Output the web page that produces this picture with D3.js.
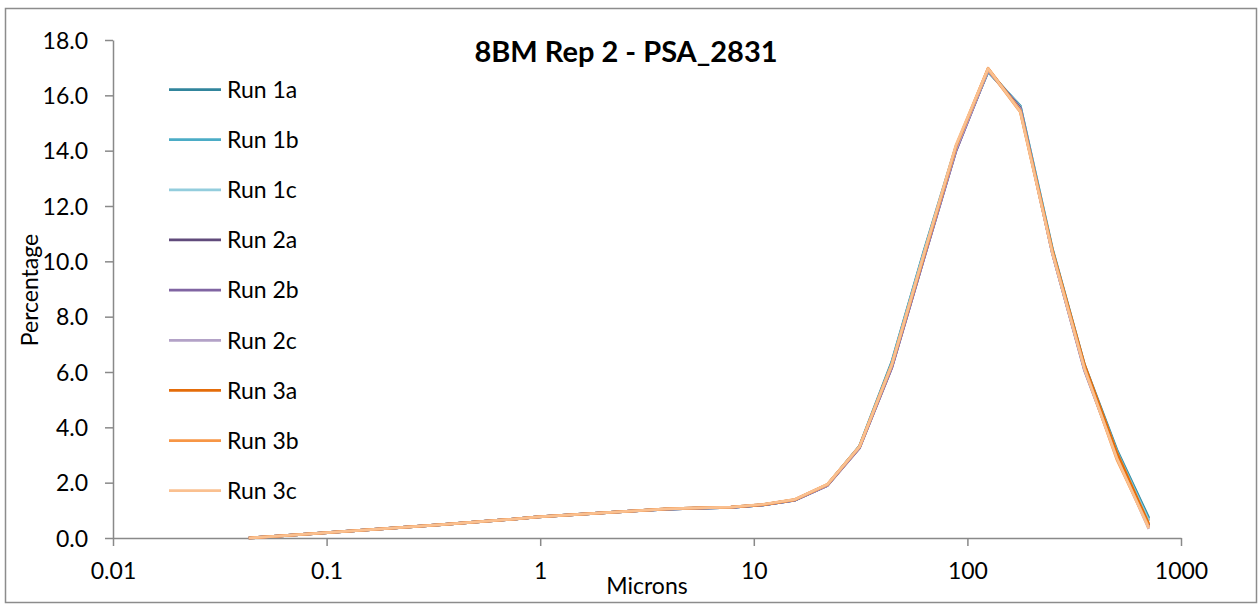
<!DOCTYPE html>
<html>
<head>
<meta charset="utf-8">
<script src="https://cdn.jsdelivr.net/npm/d3@7/dist/d3.min.js"></script>
<style>
  html, body { margin: 0; padding: 0; background: #fff; }
  svg { display: block; font-family: Lato, "Open Sans", sans-serif; }
</style>
</head>
<body>
<svg id="chart" width="1259" height="604"></svg>
<script>
// Particle size classes (microns), sqrt(2) spacing
const microns = [0.0432, 0.0610, 0.0863, 0.122, 0.173, 0.244, 0.345, 0.488, 0.691, 0.977,
                 1.38, 1.95, 2.76, 3.91, 5.52, 7.81, 11.05, 15.6, 22.1, 31.25,
                 44.2, 62.5, 88.4, 125, 176.8, 250, 353.6, 500, 707.1];

// Percentage in each class, per run
const run1a = [0.00, 0.08, 0.16, 0.24, 0.32, 0.40, 0.48, 0.57, 0.66, 0.76, 0.84, 0.91, 0.98, 1.04, 1.08, 1.11, 1.20, 1.38, 1.92, 3.32, 6.35, 10.35, 14.15, 16.85, 15.62, 10.45, 6.25, 3.20, 0.72];
const run1b = [0.00, 0.08, 0.16, 0.24, 0.32, 0.40, 0.48, 0.57, 0.66, 0.76, 0.84, 0.91, 0.98, 1.04, 1.08, 1.11, 1.20, 1.37, 1.91, 3.30, 6.30, 10.30, 14.10, 16.88, 15.60, 10.40, 6.20, 3.15, 0.65];
const run1c = [0.00, 0.08, 0.16, 0.24, 0.32, 0.40, 0.48, 0.57, 0.66, 0.76, 0.84, 0.91, 0.98, 1.05, 1.09, 1.12, 1.21, 1.38, 1.92, 3.30, 6.28, 10.28, 14.08, 16.90, 15.58, 10.38, 6.18, 3.10, 0.60];
const run2a = [0.00, 0.08, 0.16, 0.24, 0.32, 0.40, 0.48, 0.57, 0.66, 0.76, 0.84, 0.91, 0.98, 1.04, 1.08, 1.11, 1.20, 1.37, 1.90, 3.26, 6.15, 10.10, 14.00, 16.90, 15.55, 10.30, 6.10, 3.00, 0.45];
const run2b = [0.00, 0.08, 0.16, 0.24, 0.32, 0.40, 0.48, 0.57, 0.66, 0.76, 0.84, 0.91, 0.98, 1.04, 1.08, 1.11, 1.20, 1.37, 1.90, 3.26, 6.15, 10.10, 14.00, 16.92, 15.50, 10.30, 6.05, 2.95, 0.38];
const run2c = [0.00, 0.08, 0.16, 0.24, 0.32, 0.40, 0.48, 0.57, 0.66, 0.76, 0.84, 0.91, 0.98, 1.05, 1.09, 1.12, 1.21, 1.38, 1.91, 3.28, 6.20, 10.15, 14.05, 16.90, 15.50, 10.30, 6.10, 2.95, 0.33];
const run3a = [0.00, 0.08, 0.16, 0.24, 0.32, 0.40, 0.48, 0.57, 0.66, 0.76, 0.84, 0.91, 0.98, 1.05, 1.09, 1.12, 1.21, 1.39, 1.93, 3.30, 6.25, 10.20, 14.15, 16.98, 15.45, 10.40, 6.25, 3.10, 0.50];
const run3b = [0.00, 0.08, 0.16, 0.24, 0.32, 0.40, 0.48, 0.57, 0.66, 0.76, 0.84, 0.91, 0.98, 1.05, 1.09, 1.12, 1.21, 1.39, 1.93, 3.30, 6.25, 10.20, 14.15, 16.95, 15.40, 10.35, 6.15, 2.85, 0.40];
const run3c = [0.00, 0.08, 0.16, 0.24, 0.32, 0.40, 0.48, 0.57, 0.66, 0.76, 0.84, 0.91, 0.98, 1.05, 1.09, 1.12, 1.22, 1.40, 1.94, 3.30, 6.25, 10.25, 14.20, 16.97, 15.42, 10.30, 6.10, 2.90, 0.35];

const seriesNames = ["Run 1a", "Run 1b", "Run 1c", "Run 2a", "Run 2b", "Run 2c", "Run 3a", "Run 3b", "Run 3c"];
const seriesValues = [run1a, run1b, run1c, run2a, run2b, run2c, run3a, run3b, run3c];
const seriesColors = ["#31859C", "#4BACC6", "#93CDDD", "#604A7B", "#8064A2", "#B3A2C7", "#E46C0A", "#F79646", "#FAC090"];

const xTicks = [0.01, 0.1, 1, 10, 100, 1000];
const xTickLabels = ["0.01", "0.1", "1", "10", "100", "1000"];
const yTicks = [0, 2, 4, 6, 8, 10, 12, 14, 16, 18];

const titleText = "8BM Rep 2 - PSA_2831";
const xTitle = "Microns";
const yTitle = "Percentage";

const svg = d3.select("#chart");
const plot = { left: 113, right: 1181, top: 40, bottom: 538 };
const axisColor = "#898989";

// chart area border
svg.append("rect")
  .attr("x", 5.5).attr("y", 8.5)
  .attr("width", 1251).attr("height", 594)
  .attr("fill", "#fff")
  .attr("stroke", "#8c8c8c")
  .attr("stroke-width", 1.5);

const x = d3.scaleLog().domain([0.01, 1000]).range([plot.left, plot.right]);
const y = d3.scaleLinear().domain([0, 18]).range([plot.bottom, plot.top]);

// y axis
const yAxis = svg.append("g")
  .attr("transform", `translate(${plot.left},0)`)
  .call(d3.axisLeft(y).tickValues(yTicks).tickFormat(d3.format(".1f"))
        .tickSize(8).tickSizeOuter(0).tickPadding(17));
yAxis.select(".domain").attr("stroke", axisColor).attr("stroke-width", 1.5);
yAxis.selectAll(".tick line").attr("stroke", axisColor).attr("stroke-width", 1.5);
yAxis.selectAll(".tick text")
  .attr("font-family", "Lato, sans-serif").attr("font-size", 23)
  .attr("fill", "#000").attr("dy", "0.36em");

// x axis
const xAxis = svg.append("g")
  .attr("transform", `translate(0,${plot.bottom})`)
  .call(d3.axisBottom(x).tickValues(xTicks)
        .tickFormat((d, i) => xTickLabels[i])
        .tickSize(8).tickSizeOuter(0));
xAxis.select(".domain").attr("stroke", axisColor).attr("stroke-width", 1.5);
xAxis.selectAll(".tick line").attr("stroke", axisColor).attr("stroke-width", 1.5);
xAxis.selectAll(".tick text")
  .attr("font-family", "Lato, sans-serif").attr("font-size", 23)
  .attr("fill", "#000").attr("y", 41).attr("dy", null);

// series lines, first run at the bottom
const line = d3.line()
  .x((d, i) => x(microns[i]))
  .y(d => y(d));

svg.append("g").selectAll("path")
  .data(seriesValues)
  .join("path")
  .attr("d", d => line(d))
  .attr("fill", "none")
  .attr("stroke", (d, i) => seriesColors[i])
  .attr("stroke-width", 2.75)
  .attr("stroke-linejoin", "round");

// legend
const legend = svg.append("g").attr("transform", "translate(169,89.5)");
const item = legend.selectAll("g")
  .data(seriesNames)
  .join("g")
  .attr("transform", (d, i) => `translate(0,${i * 50.15})`);
item.append("line")
  .attr("x1", 0).attr("x2", 52).attr("y1", 0).attr("y2", 0)
  .attr("stroke", (d, i) => seriesColors[i])
  .attr("stroke-width", 2.75);
item.append("text")
  .attr("x", 58).attr("y", 0).attr("dy", "0.36em")
  .attr("font-size", 23).attr("fill", "#000")
  .text(d => d);

// titles
svg.append("text")
  .attr("x", 626).attr("y", 62)
  .attr("text-anchor", "middle")
  .attr("font-size", 29).attr("font-weight", "bold").attr("fill", "#000")
  .text(titleText);

svg.append("text")
  .attr("x", 647).attr("y", 594)
  .attr("text-anchor", "middle")
  .attr("font-size", 23).attr("fill", "#000")
  .text(xTitle);

svg.append("text")
  .attr("transform", "translate(38,290) rotate(-90)")
  .attr("text-anchor", "middle")
  .attr("font-size", 23).attr("fill", "#000")
  .text(yTitle);
</script>
</body>
</html>
